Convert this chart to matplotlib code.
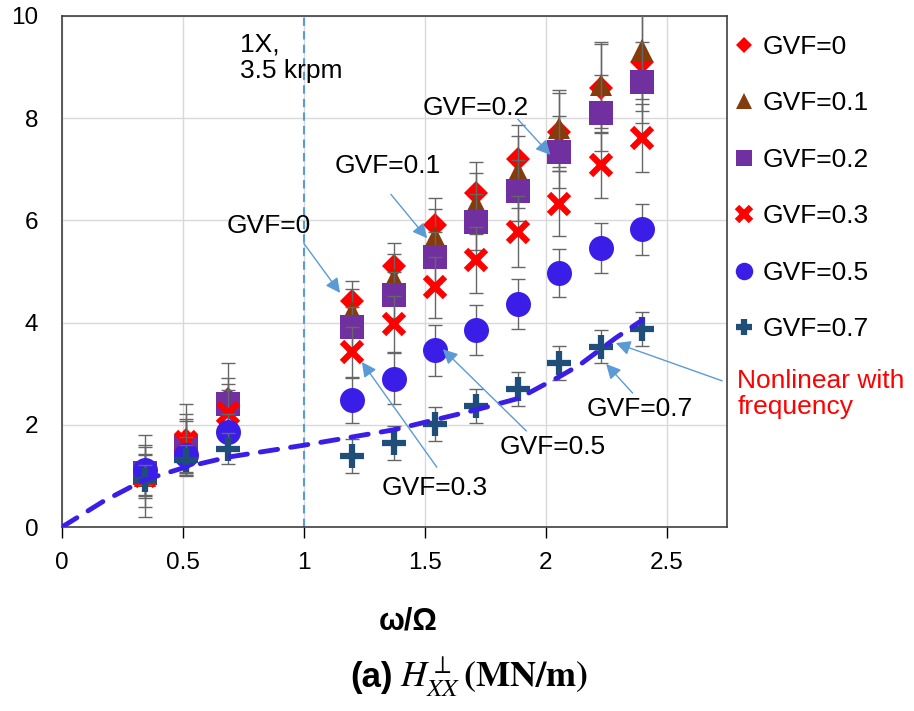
import matplotlib
matplotlib.use('Agg')
import matplotlib.pyplot as plt

plt.rcParams['font.family'] = ['Liberation Sans', 'DejaVu Sans']
plt.rcParams['mathtext.fontset'] = 'stix'

# frequency ratio w/Omega
freq = [0.343, 0.514, 0.686, 1.200, 1.371, 1.543, 1.714, 1.886, 2.057, 2.229, 2.400]

# H_XX (MN/m) for each gas volume fraction, with error bar half-widths
h_gvf0 = [1.00, 1.70, 2.50, 4.42, 5.11, 5.91, 6.54, 7.20, 7.73, 8.59, 9.10]
h_gvf01 = [1.00, 1.62, 2.42, 4.20, 4.85, 5.68, 6.33, 6.95, 7.80, 8.65, 9.33]
h_gvf02 = [1.06, 1.57, 2.40, 3.91, 4.54, 5.28, 5.97, 6.58, 7.34, 8.10, 8.70]
h_gvf03 = [1.00, 1.66, 2.23, 3.42, 3.97, 4.69, 5.22, 5.78, 6.33, 7.08, 7.61]
h_gvf05 = [1.12, 1.41, 1.86, 2.48, 2.90, 3.46, 3.86, 4.36, 4.97, 5.46, 5.83]
h_gvf07 = [0.92, 1.31, 1.53, 1.39, 1.64, 2.02, 2.37, 2.70, 3.21, 3.53, 3.87]

err_gvf0 = [0.80, 0.70, 0.70, 0.40, 0.45, 0.53, 0.60, 0.67, 0.77, 0.87, 0.95]
err_gvf01 = [0.60, 0.60, 0.50, 0.45, 0.50, 0.55, 0.60, 0.70, 0.75, 0.85, 0.95]
err_gvf02 = [0.50, 0.50, 0.40, 0.40, 0.45, 0.50, 0.55, 0.60, 0.70, 0.75, 0.80]
err_gvf03 = [0.40, 0.45, 0.45, 0.50, 0.55, 0.60, 0.65, 0.69, 0.63, 0.65, 0.67]
err_gvf05 = [0.30, 0.35, 0.35, 0.45, 0.50, 0.50, 0.49, 0.49, 0.47, 0.49, 0.50]
err_gvf07 = [0.30, 0.30, 0.30, 0.33, 0.33, 0.33, 0.33, 0.33, 0.33, 0.33, 0.33]

# hand drawn "nonlinear with frequency" trend
trend_x = [0, 0.17, 0.34, 0.51, 0.69, 1.0, 1.37, 1.71, 1.89, 1.98, 2.06, 2.14, 2.29, 2.40]
trend_y = [0, 0.50, 0.92, 1.17, 1.37, 1.60, 1.90, 2.29, 2.52, 2.75, 2.95, 3.17, 3.70, 4.05]

labels = ['GVF=0', 'GVF=0.1', 'GVF=0.2', 'GVF=0.3', 'GVF=0.5', 'GVF=0.7']
values = [h_gvf0, h_gvf01, h_gvf02, h_gvf03, h_gvf05, h_gvf07]
errors = [err_gvf0, err_gvf01, err_gvf02, err_gvf03, err_gvf05, err_gvf07]

styles = [
    dict(marker='D', color='#ff0000', ms=12, mew=0),
    dict(marker='^', color='#843c0c', ms=16, mew=0),
    dict(marker='s', color='#7030a0', ms=17, mew=0),
    dict(marker='x', color='#ff0000', ms=15, mew=4.5),
    dict(marker='o', color='#3a1ee8', ms=18, mew=0),
    dict(marker='+', color='#1f4e79', ms=17, mew=4.5),
]

fig = plt.figure(figsize=(9.14, 7.11), dpi=100)
ax = fig.add_axes([62 / 914, 1 - 527 / 711, (727 - 62) / 914, (527 - 16) / 711])

ax.set_xlim(0, 2.75)
ax.set_ylim(0, 10)
ax.set_xticks([0, 0.5, 1, 1.5, 2, 2.5])
ax.set_xticklabels(['0', '0.5', '1', '1.5', '2', '2.5'])
ax.set_yticks([0, 2, 4, 6, 8, 10])
ax.grid(True, color='#d9d9d9', lw=1)
ax.set_axisbelow(True)
ax.tick_params(axis='x', direction='out', length=8, width=1, labelsize=17.5, pad=10)
ax.tick_params(axis='y', length=0, labelsize=17.5, pad=17)
for s in ax.spines.values():
    s.set_color('#404040')
    s.set_linewidth(1.2)

# 1X line
ax.axvline(1.0, color='#5b9bd5', lw=1.5, ls=(0, (4, 2.5)), zorder=1.5)

handles = []
for i, (lab, y, e, st) in enumerate(zip(labels, values, errors, styles)):
    ax.errorbar(freq, y, yerr=e, fmt='none', ecolor='#666666', elinewidth=1,
                capsize=5, capthick=1, zorder=3 + i)
    ln, = ax.plot(freq, y, ls='none', zorder=3.5 + i, **st)
    handles.append(ln)

ax.plot(trend_x, trend_y, color='#3a1ee8', lw=3.5, ls=(0, (3.6, 2.7)), zorder=20,
        dash_capstyle='round', solid_capstyle='round')

# annotations
ax.text(0.736, 9.18, '1X,\n3.5 krpm', fontsize=19, ha='left', va='center', linespacing=1.1)
notes = [
    ('GVF=0', (0.68, 5.9), (1.0, 5.55), (1.15, 4.58)),
    ('GVF=0.1', (1.128, 7.06), (1.36, 6.51), (1.51, 5.65)),
    ('GVF=0.2', (1.49, 8.2), (1.885, 7.98), (2.02, 7.28)),
    ('GVF=0.3', (1.32, 0.76), (1.55, 1.17), (1.24, 3.23)),
    ('GVF=0.5', (1.81, 1.57), (1.92, 1.88), (1.575, 3.48)),
    ('GVF=0.7', (2.17, 2.31), (2.36, 2.62), (2.25, 3.19)),
]
arrow = dict(arrowstyle='-|>', color='#5b9bd5', lw=1, mutation_scale=22, shrinkA=0, shrinkB=0)
for txt, pos, tail, tip in notes:
    ax.text(pos[0], pos[1], txt, fontsize=19, ha='left', va='center', zorder=25)
    ax.annotate('', xy=tip, xytext=tail, arrowprops=arrow, zorder=24)

ax.text(2.793, 2.61, 'Nonlinear with\nfrequency', color='#ff0000', fontsize=19,
        ha='left', va='center', linespacing=1.1, clip_on=False)
ax.annotate('', xy=(2.29, 3.6), xytext=(2.73, 2.86), arrowprops=arrow,
            annotation_clip=False, zorder=24)

ax.legend(handles, labels, loc='upper left', bbox_to_anchor=(731 / 914, 1 - 35 / 711),
          bbox_transform=fig.transFigure, frameon=False, fontsize=19,
          handlelength=1.0, handletextpad=0.2, labelspacing=1.23,
          borderpad=0, borderaxespad=0, markerscale=0.7)

fig.text(408 / 914, 1 - 622 / 711, 'ω/Ω', fontsize=22, fontweight='bold',
         ha='center', va='center')
fig.text(393 / 914, 1 - 687 / 711, '(a)', fontsize=25, fontweight='bold',
         ha='right', va='baseline')
fig.text(400 / 914, 1 - 687 / 711, r'$\mathit{H}_{\mathit{XX}}^{\perp}\,\mathbf{(MN/m)}$',
         fontsize=26, ha='left', va='baseline')

fig.savefig('out.png', dpi=100)
